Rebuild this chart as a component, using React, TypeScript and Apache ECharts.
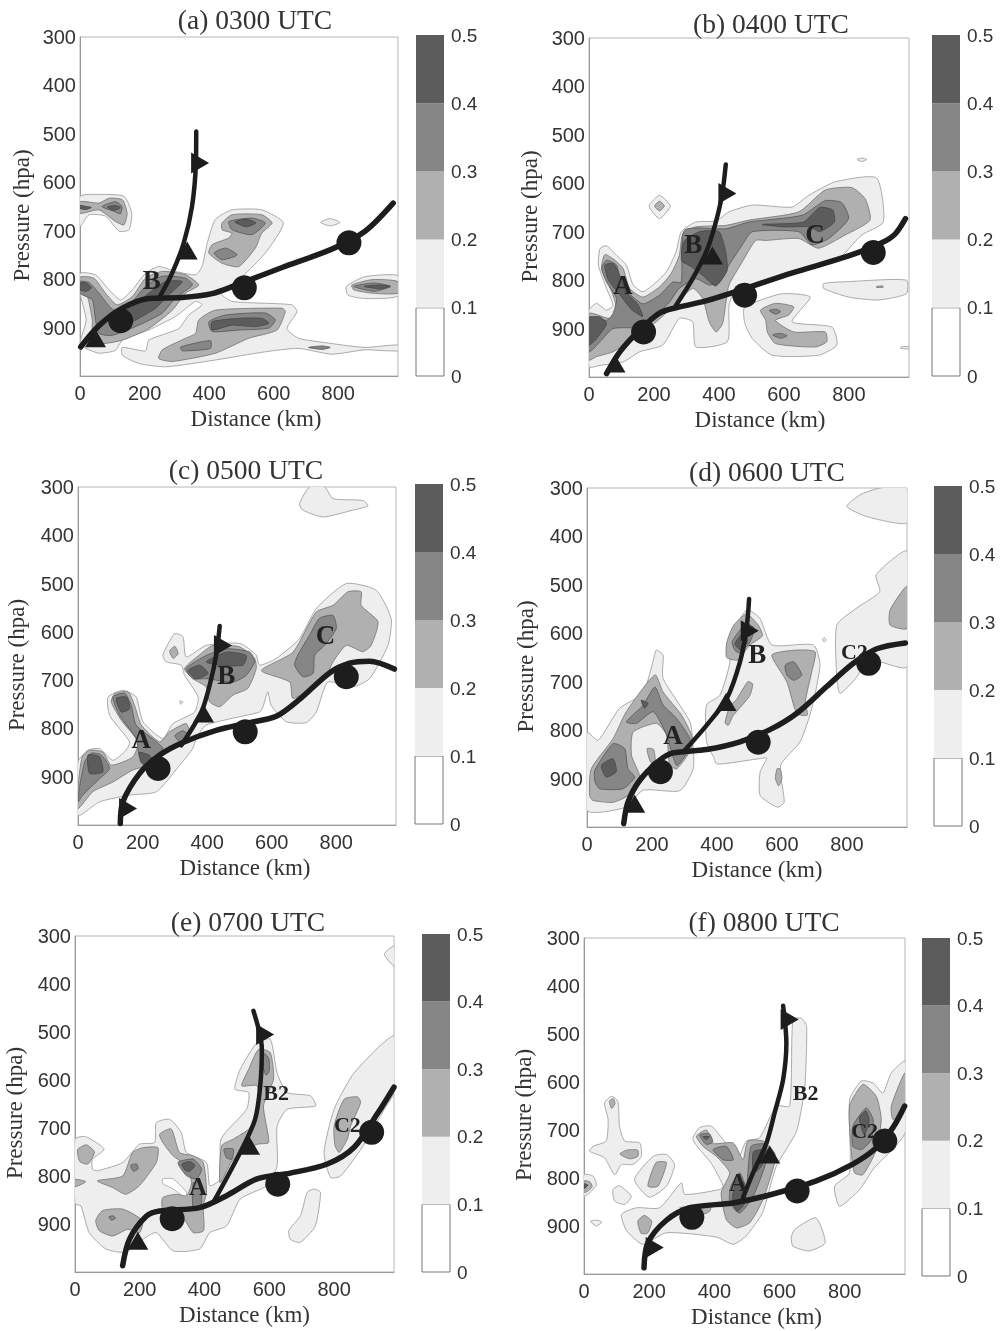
import React, { useEffect, useRef } from "react";
import * as echarts from "echarts";

type Pt = number[];
type Poly = Pt[];

const distanceTicks = [0, 200, 400, 600, 800];
const pressureTicks = [300, 400, 500, 600, 700, 800, 900];
const scaleTicks = [0, 0.1, 0.2, 0.3, 0.4, 0.5];
const scaleBands = [0.1, 0.2, 0.3, 0.4, 0.5];

// ---- (a) 0300 UTC
const a1: Poly[] = [
  [[0,629],[59,625],[136,629],[160,663],[152,698],[121,701],[79,670],[28,667],[0,691]],
  [[0,788],[48,791],[90,822],[126,843],[162,822],[203,788],[244,774],[296,784],[358,791],[378,774],[394,726],[419,677],[471,657],[563,657],[630,684],[574,746],[502,795],[460,815],[435,829],[471,846],[656,853],[672,867],[641,902],[677,922],[780,933],[883,941],[985,936],[985,948],[883,946],[780,955],[677,943],[574,950],[419,967],[265,981],[182,974],[131,957],[131,941],[203,948],[213,926],[306,902],[337,874],[378,853],[358,846],[296,877],[213,905],[131,926],[110,947],[59,953],[18,943],[0,933],[19,884],[0,829]],
  [[745,683],[775,675],[805,683],[775,690]],
  [[985,793],[883,795],[825,815],[830,833],[883,840],[985,835]],
];
const a2: Poly[] = [
  [[0,640],[59,643],[90,633],[131,636],[146,664],[136,688],[110,681],[59,657],[0,664]],
  [[440,684],[471,667],[563,667],[595,684],[563,705],[543,736],[492,774],[440,767],[399,746],[409,729],[461,715],[471,705],[440,698]],
  [[0,796],[43,798],[79,829],[115,853],[162,836],[203,798],[255,784],[327,791],[368,812],[327,829],[286,864],[213,902],[131,926],[59,933],[38,912],[38,884],[23,836],[0,822]],
  [[368,884],[419,864],[626,860],[636,867],[610,905],[523,922],[419,953],[286,970],[244,964],[255,946],[327,922],[358,912]],
  [[842,812],[905,801],[985,805],[985,829],[905,829],[848,822]],
];
const a3: Poly[] = [
  [[461,681],[533,674],[574,684],[533,708],[471,698]],
  [[415,746],[451,736],[487,750],[440,760]],
  [[0,805],[28,807],[59,829],[105,864],[162,846],[203,815],[255,794],[327,798],[348,812],[296,839],[255,870],[182,895],[100,916],[59,912],[48,884],[38,843],[0,829]],
  [[399,888],[451,874],[574,870],[605,884],[585,901],[492,905],[409,908]],
  [[312,940],[404,927],[404,943],[317,948]],
  [[848,815],[911,808],[963,815],[911,825]],
  [[708,941],[750,938],[775,941],[750,945]],
  [[68,650],[110,640],[130,650],[125,665],[105,660]],
];
const a4: Poly[] = [
  [[0,808],[20,808],[35,818],[20,825],[0,822]],
  [[0,648],[20,650],[35,652],[20,656],[0,654]],
  [[85,651],[110,648],[125,652],[105,658]],
  [[480,682],[515,676],[545,684],[515,692]],
  [[105,877],[162,857],[213,829],[265,805],[317,805],[276,832],[234,860],[162,888],[110,901]],
  [[409,888],[492,881],[564,881],[585,891],[543,898],[471,895],[409,905]],
  [[880,815],[930,812],[960,815],[930,820]],
];
const aCold: Pt[] = [[360,495],[359,560],[347,650],[321,726],[285,788],[244,840]];
const aWarm: Pt[] = [[2,940],[59,896],[131,860],[213,840],[316,838],[409,830],[492,810],[626,776],[780,738],[883,701],[970,643]];
const aCircles: Pt[] = [[126,886],[509,818],[833,725]];
const aTriangles: Pt[] = [[48,922],[332,741],[372,560]];
const aLabels: (string | number)[][] = [["B",222,802]];

// ---- (b) 0400 UTC
const b1: Poly[] = [
  [[825,551],[840,548],[855,551],[840,555]],
  [[217,625],[250,647],[217,673],[185,647]],
  [[0,862],[23,848],[54,862],[74,852],[54,817],[29,769],[34,735],[54,729],[85,749],[115,769],[136,810],[166,824],[207,804],[238,783],[268,742],[284,700],[329,680],[391,678],[431,659],[503,645],[625,649],[676,625],[758,597],[885,589],[906,680],[839,707],[758,762],[595,790],[452,821],[431,852],[426,927],[329,938],[319,886],[278,879],[227,934],[156,948],[105,969],[34,976],[0,979]],
  [[722,807],[799,803],[977,800],[977,828],[890,841],[799,835],[722,817]],
  [[477,859],[513,845],[595,828],[681,835],[625,886],[748,897],[763,934],[707,955],[564,955],[503,921],[480,890]],
  [[960,938],[985,937],[985,942],[960,941]],
];
const b2: Poly[] = [
  [[217,637],[232,647],[217,657],[202,647]],
  [[0,869],[64,879],[85,859],[70,824],[39,776],[49,747],[80,759],[105,776],[125,817],[166,835],[217,814],[253,786],[278,749],[289,704],[329,690],[421,687],[493,676],[646,659],[727,614],[809,609],[850,632],[865,676],[788,707],[706,734],[646,714],[544,718],[513,718],[472,762],[431,810],[421,848],[411,890],[391,907],[370,886],[350,838],[319,817],[258,855],[207,886],[136,920],[74,948],[23,958],[0,965]],
  [[528,862],[574,848],[630,855],[615,872],[574,883],[630,907],[727,907],[732,927],[697,938],[574,931],[549,907],[544,883]],
  [[885,813],[905,812],[905,815],[885,815]],
];
const b3: Poly[] = [
  [[0,876],[54,883],[74,869],[85,838],[54,804],[39,776],[54,759],[85,769],[95,797],[125,828],[166,849],[217,831],[258,804],[284,804],[294,697],[421,694],[493,680],[656,666],[727,636],[778,640],[799,673],[738,714],[686,727],[646,700],[503,700],[472,727],[431,769],[401,804],[370,810],[329,797],[278,817],[248,845],[207,872],[146,897],[74,900],[34,927],[0,948]],
  [[555,863],[575,860],[590,865],[575,870]],
  [[565,913],[590,910],[610,915],[590,920]],
];
const b4: Poly[] = [
  [[0,879],[34,876],[54,890],[23,921],[0,934]],
  [[49,769],[75,766],[95,790],[115,825],[150,850],[165,875],[130,860],[95,830],[60,800]],
  [[292,720],[340,700],[400,700],[420,740],[425,780],[390,812],[350,790],[310,770],[285,760]],
  [[533,685],[660,680],[710,650],[750,655],[755,680],[710,700],[680,690],[600,690]],
];
const bCold: Pt[] = [[421,561],[411,618],[396,666],[365,735],[319,797],[268,852]];
const bWarm: Pt[] = [[54,993],[95,948],[156,903],[217,868],[268,857],[360,843],[473,819],[626,785],[799,750],[901,723],[942,705],[974,673]];
const bCircles: Pt[] = [[168,907],[479,831],[875,743]];
const bTriangles: Pt[] = [[80,972],[380,749],[426,621]];
const bLabels: (string | number)[][] = [["A",105,810],["B",321,725],["C",696,704]];

// ---- (c) 0500 UTC
const c1: Poly[] = [
  [[717,300],[764,300],[790,324],[883,328],[898,339],[851,348],[759,362],[697,348],[686,335]],
  [[0,869],[31,845],[67,842],[108,866],[149,845],[160,828],[98,773],[93,735],[139,721],[180,735],[201,786],[263,821],[294,790],[361,766],[372,735],[330,690],[320,669],[273,662],[263,648],[299,604],[325,610],[335,652],[397,628],[501,624],[552,648],[562,669],[614,655],[686,614],[738,552],[831,500],[924,514],[970,573],[960,628],[903,697],[851,714],[774,704],[738,766],[707,788],[645,786],[598,752],[588,724],[573,755],[563,766],[397,793],[366,821],[356,841],[315,876],[243,931],[160,938],[67,952],[0,980]],
  [[315,743],[325,745],[318,750]],
];
const c2: Poly[] = [
  [[284,640],[300,630],[310,645],[295,655]],
  [[0,921],[13,859],[36,845],[77,849],[103,876],[170,859],[186,828],[134,783],[103,745],[114,728],[155,724],[175,752],[196,793],[253,828],[284,807],[335,790],[346,814],[294,835],[253,856],[222,876],[170,886],[108,911],[46,931],[0,966]],
  [[330,676],[387,642],[418,628],[500,631],[547,655],[552,676],[526,717],[480,731],[439,755],[408,745],[397,714],[356,697]],
  [[568,680],[666,642],[738,559],[790,545],[836,517],[877,517],[877,545],[929,579],[908,628],[882,641],[831,628],[790,662],[764,697],[666,738],[656,704]],
];
const c3: Poly[] = [
  [[335,676],[397,649],[460,635],[532,642],[547,662],[521,690],[480,704],[397,697],[356,697]],
  [[108,735],[145,727],[165,752],[180,793],[243,828],[263,842],[222,873],[191,859],[180,821],[129,773]],
  [[21,869],[41,851],[72,855],[98,883],[67,904],[15,938],[0,952],[5,920]],
  [[300,815],[325,805],[345,815],[320,830]],
  [[681,648],[717,607],[748,572],[790,566],[800,593],[764,628],[733,648],[728,686],[697,693],[671,669]],
];
const c4: Poly[] = [
  [[397,662],[460,642],[521,649],[511,669],[438,669]],
  [[341,680],[377,669],[403,686],[366,697]],
  [[118,738],[150,735],[160,759],[134,766]],
  [[190,850],[220,855],[235,870],[215,880],[195,870]],
  [[31,855],[67,859],[77,890],[36,893]],
];
const cCold: Pt[] = [[439,588],[428,648],[408,710],[382,766],[320,835]];
const cWarm: Pt[] = [[131,997],[139,952],[191,893],[253,855],[325,829],[428,804],[531,788],[614,775],[686,740],[779,685],[841,665],[903,661],[980,677]];
const cCircles: Pt[] = [[248,883],[518,807],[831,693]];
const cTriangles: Pt[] = [[155,966],[389,769],[449,628]];
const cLabels: (string | number)[][] = [["A",196,821],["B",459,690],["C",767,607]];

// ---- (d) 0600 UTC
const d1: Poly[] = [
  [[902,300],[985,300],[985,372],[861,359],[800,338],[841,314]],
  [[985,431],[890,479],[901,514],[830,548],[769,583],[769,693],[779,724],[825,695],[870,655],[985,669]],
  [[0,804],[34,821],[100,755],[172,724],[203,659],[213,635],[234,645],[234,693],[317,783],[327,838],[327,880],[286,925],[173,924],[115,960],[0,966]],
  [[430,624],[491,552],[532,569],[569,624],[697,624],[717,665],[692,755],[656,824],[596,873],[607,949],[586,959],[533,935],[533,886],[553,858],[520,860],[400,870],[389,855],[368,824],[368,748],[409,728],[440,659]],
  [[725,612],[731,609],[736,614],[730,618]],
];
const d2: Poly[] = [
  [[8,935],[13,880],[80,818],[121,762],[209,686],[234,721],[291,769],[322,811],[322,838],[276,880],[254,870],[245,810],[214,786],[142,804],[137,852],[162,897],[126,935],[80,949],[18,945]],
  [[185,838],[205,840],[210,870],[195,865]],
  [[430,620],[450,585],[491,560],[527,583],[540,605],[500,625],[465,655],[430,650]],
  [[569,645],[636,635],[702,638],[692,679],[672,741],[678,769],[646,766],[615,700]],
  [[460,737],[495,700],[510,705],[500,730],[450,770],[435,790],[425,785],[440,750]],
  [[985,503],[985,590],[933,583],[933,552]],
  [[585,880],[595,880],[600,900],[590,915],[580,900]],
];
const d3: Poly[] = [
  [[121,783],[172,749],[209,711],[234,748],[276,776],[317,818],[312,842],[276,873],[245,810],[204,762],[152,786]],
  [[24,883],[80,828],[116,838],[126,880],[147,897],[111,921],[39,921],[24,905]],
  [[447,617],[490,580],[515,590],[500,620],[470,640],[455,635]],
  [[610,666],[636,659],[661,686],[636,697],[615,686]],
];
const d4: Poly[] = [
  [[44,873],[80,859],[90,886],[59,897]],
  [[167,738],[188,745],[177,755]],
  [[455,622],[480,600],[495,615],[475,635]],
];
const dCold: Pt[] = [[499,529],[491,590],[471,659],[430,735],[368,790],[296,845]];
const dWarm: Pt[] = [[113,993],[126,949],[162,904],[224,862],[265,847],[368,840],[471,824],[563,799],[646,765],[738,710],[820,662],[892,632],[980,620]];
const dCircles: Pt[] = [[226,886],[527,825],[867,662]];
const dTriangles: Pt[] = [[147,952],[428,742],[501,595]];
const dLabels: (string | number)[][] = [["A",265,810],["B",524,642],["C2",823,637]];

// ---- (e) 0700 UTC
const e1: Poly[] = [
  [[985,321],[955,338],[985,362]],
  [[985,508],[862,585],[800,661],[769,751],[789,803],[820,800],[883,744],[955,661],[985,626]],
  [[0,723],[33,718],[90,744],[54,765],[54,786],[69,789],[147,772],[199,734],[246,730],[251,689],[292,682],[328,709],[344,751],[406,772],[416,820],[448,807],[451,723],[530,661],[536,626],[494,619],[510,578],[562,522],[603,515],[624,585],[655,626],[727,633],[743,654],[655,661],[624,696],[624,779],[592,820],[510,848],[468,904],[416,918],[385,952],[303,956],[251,918],[209,932],[157,959],[95,952],[44,918],[18,862],[0,858]],
  [[738,827],[758,834],[742,904],[696,938],[665,932],[660,914],[696,883],[717,834]],
];
const e0: Poly[] = [
  [[271,806],[303,806],[344,834],[341,845],[303,827],[271,816]],
];
const e2: Poly[] = [
  [[8,745],[35,735],[60,750],[40,775],[15,770]],
  [[0,807],[33,812],[0,822]],
  [[69,810],[147,800],[178,751],[209,741],[256,741],[251,772],[199,820],[157,838],[116,824]],
  [[261,713],[297,702],[323,751],[365,758],[396,772],[406,834],[396,862],[397,914],[365,918],[339,893],[271,869],[271,845],[313,838],[344,841],[360,814],[344,779],[303,758],[271,730]],
  [[64,893],[85,872],[147,869],[209,893],[199,918],[163,911],[116,925],[75,914]],
  [[448,814],[453,737],[489,723],[540,700],[567,660],[562,612],[515,612],[536,578],[567,536],[603,543],[613,598],[582,654],[598,730],[562,734],[489,765]],
  [[800,696],[831,640],[872,635],[882,647],[851,696],[841,723],[816,751],[803,737]],
];
const e3: Poly[] = [
  [[318,772],[365,765],[391,786],[375,806],[344,799]],
  [[365,814],[385,814],[390,859],[365,869]],
  [[460,744],[489,744],[484,765],[468,762]],
  [[585,545],[598,555],[600,580],[590,590],[580,570]],
  [[172,778],[190,775],[195,785],[180,790]],
  [[105,885],[118,883],[125,888],[112,892]],
];
const e4: Poly[] = [
  [[330,775],[355,770],[370,778],[355,790],[340,788]],
];
const eCold: Pt[] = [[551,456],[577,536],[572,612],[556,682],[510,751],[427,855]];
const eWarm: Pt[] = [[147,987],[168,932],[220,884],[261,873],[385,866],[468,841],[562,806],[665,794],[779,775],[862,740],[934,670],[985,615]];
const eCircles: Pt[] = [[300,889],[626,817],[916,709]];
const eTriangles: Pt[] = [[194,935],[539,737],[587,505]];
const eLabels: (string | number)[][] = [["A",380,821],["B2",621,626],["C2",841,692]];

// ---- (f) 0800 UTC
const f1: Poly[] = [
  [[0,793],[28,796],[38,814],[17,831],[0,838]],
  [[20,890],[40,888],[55,892],[38,900]],
  [[63,644],[84,630],[104,640],[109,692],[125,723],[171,727],[176,755],[150,772],[115,772],[94,793],[63,758],[17,744],[28,734],[68,723],[74,678]],
  [[89,824],[109,816],[145,838],[125,855],[94,848]],
  [[155,803],[212,755],[253,751],[278,772],[253,817],[200,840]],
  [[115,876],[161,862],[232,862],[299,810],[309,834],[416,824],[427,817],[391,770],[334,720],[355,695],[391,692],[427,720],[475,755],[498,723],[539,716],[590,650],[631,650],[641,470],[667,467],[683,484],[678,609],[667,657],[651,705],[590,776],[548,872],[497,921],[458,938],[406,923],[253,914],[180,938],[130,909]],
  [[636,924],[647,907],[712,883],[740,935],[691,952],[641,942]],
  [[769,817],[815,789],[815,637],[851,598],[887,602],[917,623],[943,581],[985,557],[985,706],[887,782],[846,824],[784,859]],
];
const f2: Poly[] = [
  [[78,640],[90,635],[95,645],[85,655]],
  [[110,750],[130,742],[165,742],[165,755],[140,760]],
  [[196,817],[221,768],[253,768],[227,817]],
  [[165,890],[185,878],[208,890],[195,915],[175,915]],
  [[0,806],[18,808],[25,818],[10,828],[0,830]],
  [[345,713],[376,700],[396,728],[458,727],[488,762],[503,723],[549,723],[585,748],[585,768],[549,845],[509,893],[468,904],[437,887],[421,831],[447,789],[406,755],[365,734]],
  [[815,650],[856,605],[897,630],[912,678],[897,741],[856,793],[830,789],[820,741]],
  [[943,650],[985,581],[985,657],[948,678]],
  [[294,862],[350,860],[390,855],[385,870],[340,880]],
];
const f3: Poly[] = [
  [[825,692],[866,654],[887,678],[882,720],[851,741],[825,734]],
  [[355,710],[385,708],[395,725],[375,730]],
  [[396,741],[437,734],[458,762],[427,762]],
  [[451,817],[478,789],[498,817],[513,734],[558,730],[558,768],[519,838],[478,873],[447,851]],
];
const f4: Poly[] = [
  [[365,714],[385,714],[375,720]],
  [[470,800],[490,810],[495,850],[470,870],[455,845]],
  [[520,745],[555,742],[545,775],[520,790]],
  [[845,675],[865,660],[875,680],[860,710]],
  [[0,812],[12,815],[0,822]],
];
const fCold: Pt[] = [[611,441],[621,519],[611,595],[585,664],[560,727],[519,789],[488,841]];
const fWarm: Pt[] = [[184,987],[196,935],[253,888],[325,862],[457,852],[560,837],[713,806],[825,771],[897,737],[948,695],[984,650]];
const fCircles: Pt[] = [[331,882],[654,827],[923,723]];
const fTriangles: Pt[] = [[217,945],[570,751],[631,470]];
const fLabels: (string | number)[][] = [["A",473,810],["B2",680,621],["C2",861,702]];

const titles = ["(a) 0300 UTC", "(b) 0400 UTC", "(c) 0500 UTC", "(d) 0600 UTC", "(e) 0700 UTC", "(f) 0800 UTC"];

// ---- layout and styles, not data
const LEVEL_FILL = ["#ffffff", "#eeeeee", "#b0b0b0", "#868686", "#5c5c5c"];
const LEVEL_STROKE = ["#aaaaaa", "#a2a2a2", "#7c7c7c", "#5c5c5c", "#4a4a4a"];
const SERIF = "'Liberation Serif', serif";
const SANS = "'Liberation Sans', sans-serif";
const X_MAX = 985;

const panels = [
  { levels: [[], a1, a2, a3, a4], cold: aCold, warm: aWarm, circles: aCircles, tris: aTriangles, rot: [0, 0, -90], labels: aLabels,
    g: [80, 37, 318, 339], cb: [416, 35, 28, 341], t: [250, 18], lab: 27, yn: 47, xn: 17 },
  { levels: [[], b1, b2, b3, b4], cold: bCold, warm: bWarm, circles: bCircles, tris: bTriangles, rot: [0, 0, -90], labels: bLabels,
    g: [589, 38, 320, 339], cb: [932, 35, 28, 341], t: [766, 22], lab: 27, yn: 48, xn: 11 },
  { levels: [[], c1, c2, c3, c4], cold: cCold, warm: cWarm, circles: cCircles, tris: cTriangles, rot: [-90, 0, -90], labels: cLabels,
    g: [78, 487, 318, 338], cb: [415, 484, 28, 340], t: [241, 468], lab: 27, yn: 50, xn: 8 },
  { levels: [[], d1, d2, d3, d4], cold: dCold, warm: dWarm, circles: dCircles, tris: dTriangles, rot: [0, 0, -90], labels: dLabels,
    g: [587, 488, 320, 339], cb: [934, 486, 28, 340], t: [762, 470], lab: 27, yn: 50, xn: 10 },
  { levels: [e0, e1, e2, e3, e4], cold: eCold, warm: eWarm, circles: eCircles, tris: eTriangles, rot: [0, 0, -90], labels: eLabels,
    g: [75, 936, 319, 336], cb: [422, 934, 28, 338], t: [243, 920], lab: 25, yn: 49, xn: 10 },
  { levels: [[], f1, f2, f3, f4], cold: fCold, warm: fWarm, circles: fCircles, tris: fTriangles, rot: [-90, 0, -90], labels: fLabels,
    g: [584, 938, 321, 336], cb: [922, 938, 28, 338], t: [759, 920], lab: 25, yn: 49, xn: 12 },
];

function buildOption() {
  const grid: any[] = [];
  const xAxis: any[] = [];
  const yAxis: any[] = [];
  const series: any[] = [];
  const title: any[] = [];

  panels.forEach((p, i) => {
    const gi = i * 2;
    const cbi = i * 2 + 1;
    grid.push({ left: p.g[0], top: p.g[1], width: p.g[2], height: p.g[3], show: true, borderColor: "#b5b5b5", borderWidth: 1, backgroundColor: "#fff" });
    grid.push({ left: p.cb[0], top: p.cb[1], width: p.cb[2], height: p.cb[3], show: false });
    title.push({
      text: titles[i], left: p.t[0], top: p.t[1] - 18, textAlign: "center",
      textStyle: { fontFamily: SERIF, fontSize: 27.5, fontWeight: "normal", color: "#333" },
    });
    xAxis.push({
      type: "value", gridIndex: gi, min: 0, max: X_MAX, interval: 200,
      name: "Distance (km)", nameLocation: "middle", nameGap: 31,
      nameTextStyle: { fontFamily: SERIF, fontSize: 23, color: "#333", padding: [0, 0, 0, p.xn * 2] },
      axisLine: { show: true, lineStyle: { color: "#999", width: 1 } }, axisTick: { show: false }, splitLine: { show: false },
      axisLabel: { fontFamily: SANS, fontSize: 20, color: "#333", margin: 7, formatter: (v: number) => (distanceTicks.includes(v) ? String(v) : "") },
    });
    xAxis.push({ type: "value", gridIndex: cbi, min: 0, max: 1, show: false });
    yAxis.push({
      type: "value", gridIndex: gi, min: 300, max: 1000, interval: 100, inverse: true,
      name: "Pressure (hpa)", nameLocation: "middle", nameGap: p.yn,
      nameTextStyle: { fontFamily: SERIF, fontSize: 23, color: "#333", padding: [0, 0, 0, -18] },
      axisLine: { show: true, lineStyle: { color: "#999", width: 1 } }, axisTick: { show: false }, splitLine: { show: false },
      axisLabel: { fontFamily: SANS, fontSize: 20, color: "#333", margin: 4, formatter: (v: number) => (pressureTicks.includes(v) ? String(v) : "") },
    });
    yAxis.push({
      type: "value", gridIndex: cbi, min: 0, max: 0.5, interval: 0.1, position: "right",
      axisLine: { show: false }, axisTick: { show: false }, splitLine: { show: false },
      axisLabel: { fontFamily: SANS, fontSize: 19, color: "#333", margin: 7, formatter: (v: number) => (scaleTicks.includes(Math.round(v * 10) / 10) ? String(Math.round(v * 10) / 10) : "") },
    });

    const polys: { level: number; pts: Poly }[] = [];
    [1, 0, 2, 3, 4].forEach((lv) => (p.levels[lv] as Poly[]).forEach((pts) => polys.push({ level: lv, pts })));
    series.push({
      type: "custom", xAxisIndex: gi, yAxisIndex: gi, clip: true, silent: true, z: 2,
      encode: { x: 0, y: 1 },
      data: polys.map((q, k) => [q.pts[0][0], q.pts[0][1], k]),
      renderItem: (_: any, api: any) => {
        const q = polys[api.value(2)];
        return {
          type: "polygon",
          shape: { points: q.pts.map((pt) => api.coord(pt)), smooth: 0.2 },
          style: { fill: LEVEL_FILL[q.level], stroke: LEVEL_STROKE[q.level], lineWidth: 0.9 },
        };
      },
    });

    const front = (d: Pt[], w: number) => ({
      type: "line", xAxisIndex: gi, yAxisIndex: gi, data: d, smooth: 0.3, showSymbol: false, silent: true, z: 3, clip: true,
      lineStyle: { color: "#1d1d1d", width: w, cap: "round", join: "round" },
    });
    series.push(front(p.cold, 4.5));
    series.push(front(p.warm, 5.5));
    series.push({
      type: "scatter", xAxisIndex: gi, yAxisIndex: gi, data: p.circles, symbol: "circle", symbolSize: 25, silent: true, z: 4,
      itemStyle: { color: "#1d1d1d", opacity: 1 },
    });
    series.push({
      type: "scatter", xAxisIndex: gi, yAxisIndex: gi, silent: true, z: 4,
      data: p.tris.map((t, k) => ({ value: t, symbol: "triangle", symbolSize: [21, 18], symbolRotate: p.rot[k] })),
      itemStyle: { color: "#1d1d1d", opacity: 1 },
    });
    series.push({
      type: "scatter", xAxisIndex: gi, yAxisIndex: gi, silent: true, z: 5, symbolSize: 1,
      itemStyle: { color: "transparent", opacity: 1 },
      data: p.labels.map((l) => ({
        name: l[0], value: [l[1], l[2]],
        label: { fontSize: String(l[0]).length > 1 ? 22 : p.lab },
      })),
      label: { show: true, position: "inside", formatter: "{b}", fontFamily: SERIF, fontWeight: "bold", color: "#222", opacity: 1 },
    });

    // colour scale
    series.push({
      type: "custom", xAxisIndex: cbi, yAxisIndex: cbi, silent: true, clip: false, z: 2,
      encode: { x: 0, y: 1 },
      data: scaleBands.map((v, k) => [0, v, k]),
      renderItem: (_: any, api: any) => {
        const k = api.value(2);
        const hi = api.coord([0, api.value(1)]);
        const lo = api.coord([1, api.value(1) - 0.1]);
        return {
          type: "rect",
          shape: { x: hi[0], y: hi[1], width: lo[0] - hi[0], height: lo[1] - hi[1] },
          style: { fill: LEVEL_FILL[k], stroke: k === 0 ? "#777" : "none", lineWidth: 1 },
        };
      },
    });
  });

  return { animation: false, backgroundColor: "#fff", title, grid, xAxis, yAxis, series };
}

export default function App() {
  const ref = useRef<HTMLDivElement>(null);
  useEffect(() => {
    const chart = echarts.init(ref.current!, undefined, { renderer: "svg" });
    chart.setOption(buildOption() as any);
    return () => chart.dispose();
  }, []);
  return <div ref={ref} style={{ position: "absolute", left: 0, top: 0, width: 1002, height: 1331, filter: "blur(0.45px)" }} />;
}
